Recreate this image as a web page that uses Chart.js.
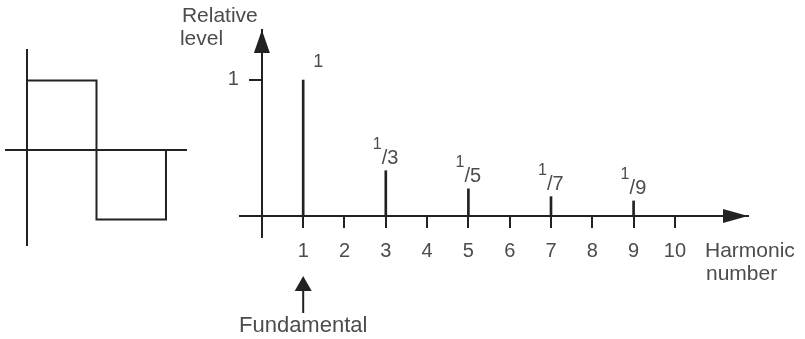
<!DOCTYPE html>
<html>
<head>
<meta charset="utf-8">
<title>Square wave spectrum</title>
<script src="https://cdn.jsdelivr.net/npm/chart.js@4.4.1/dist/chart.umd.min.js"></script>
<style>
  body { margin: 0; background: #fff; }
  #wrap { position: relative; width: 805px; height: 339px; }
  canvas { position: absolute; top: 0; left: 0; }
</style>
</head>
<body>
<div id="wrap">
  <canvas id="spectrumChart" width="805" height="339"></canvas>
  <canvas id="waveChart" width="200" height="339"></canvas>
</div>
<script>
// one period of the square wave
const waveTime = [0, 0, 1, 1, 2, 2];
const waveLevel = [0, 1, 1, -1, -1, 0];

// odd harmonics and their relative levels
const harmonics = [1, 3, 5, 7, 9];
const levels = [1, 1 / 3, 1 / 5, 1 / 7, 1 / 9];
const levelLabels = ["1", "1/3", "1/5", "1/7", "1/9"];

// axis ticks
const harmonicTicks = [1, 2, 3, 4, 5, 6, 7, 8, 9, 10];
const levelTicks = [1];

const INK = "#222";
const TEXT = "#4c4c4c";
const FONT = "'Liberation Sans', Arial, sans-serif";

Chart.defaults.font.family = FONT;
Chart.defaults.color = TEXT;
Chart.defaults.animation = false;

// filled triangle pointing along (dx, dy) with its tip at (tipX, tipY)
function arrowHead(ctx, tipX, tipY, dx, dy, len, half) {
  const bx = tipX - dx * len;
  const by = tipY - dy * len;
  ctx.beginPath();
  ctx.moveTo(tipX, tipY);
  ctx.lineTo(bx - dy * half, by + dx * half);
  ctx.lineTo(bx + dy * half, by - dx * half);
  ctx.closePath();
  ctx.fill();
}

// arrows, value fractions and axis titles
const spectrumDecor = {
  id: "spectrumDecor",
  afterDraw(chart) {
    const { ctx, chartArea, scales: { x, y } } = chart;
    const x0 = x.getPixelForValue(0);
    const y0 = y.getPixelForValue(0);

    ctx.save();
    ctx.fillStyle = INK;
    ctx.strokeStyle = INK;
    arrowHead(ctx, x0, chartArea.top, 0, -1, 23, 8);
    arrowHead(ctx, chartArea.right, y0, 1, 0, 25, 7);

    // pointer to the fundamental
    const xf = x.getPixelForValue(harmonics[0]);
    ctx.lineWidth = 2;
    ctx.beginPath();
    ctx.moveTo(xf, 313);
    ctx.lineTo(xf, 288);
    ctx.stroke();
    arrowHead(ctx, xf, 276, 0, -1, 15, 8.5);

    ctx.fillStyle = TEXT;

    // level ticks sit left of the tick marks
    ctx.font = `20px ${FONT}`;
    ctx.textAlign = "right";
    ctx.textBaseline = "middle";
    levelTicks.forEach((v) => {
      ctx.fillText(String(v), x0 - 23, y.getPixelForValue(v) - 1);
    });

    // level written over each bar
    ctx.textAlign = "left";
    chart.getDatasetMeta(0).data.forEach((bar, i) => {
      const [num, den] = levelLabels[i].split("/");
      if (!den) {
        ctx.font = `18px ${FONT}`;
        ctx.fillText(num, bar.x + 10, bar.y - 18);
        return;
      }
      ctx.font = `16px ${FONT}`;
      ctx.fillText(num, bar.x - 13, bar.y - 26);
      ctx.font = `20px ${FONT}`;
      ctx.fillText("/" + den, bar.x - 4, bar.y - 12);
    });

    // axis titles
    ctx.textBaseline = "alphabetic";
    ctx.font = `21px ${FONT}`;
    ctx.fillText("Relative", x0 - 80, chartArea.top - 8);
    ctx.fillText("level", x0 - 82, chartArea.top + 15);
    ctx.fillText("Harmonic", chartArea.right - 43, y0 + 41);
    ctx.fillText("number", chartArea.right - 42, y0 + 64);
    ctx.font = `22px ${FONT}`;
    ctx.textAlign = "center";
    ctx.fillText("Fundamental", xf, 332);
    ctx.restore();
  }
};

new Chart(document.getElementById("spectrumChart"), {
  type: "bar",
  data: {
    datasets: [
      {
        data: harmonics.map((h, i) => ({ x: h, y: levels[i] })),
        backgroundColor: INK,
        barThickness: 2,
      },
    ],
  },
  options: {
    responsive: false,
    layout: { padding: { left: 240, right: 57, top: 30, bottom: 102 } },
    plugins: { legend: { display: false }, tooltip: { enabled: false } },
    scales: {
      x: {
        type: "linear",
        position: { y: 0 },
        min: -0.53,
        max: 11.77,
        offset: false,
        afterBuildTicks: (scale) => {
          scale.ticks = harmonicTicks.map((v) => ({ value: v }));
        },
        grid: { offset: false, drawOnChartArea: false, color: INK, lineWidth: 2, tickLength: 11 },
        border: { color: INK, width: 2 },
        ticks: { padding: 12, font: { size: 20 }, maxRotation: 0, autoSkip: false },
      },
      y: {
        type: "linear",
        position: { x: 0 },
        min: -0.154,
        max: 1.368,
        afterBuildTicks: (scale) => {
          scale.ticks = levelTicks.map((v) => ({ value: v }));
        },
        grid: { drawOnChartArea: false, color: INK, lineWidth: 2, tickLength: 12 },
        border: { color: INK, width: 2 },
        ticks: { display: false },
      },
    },
  },
  plugins: [spectrumDecor],
});

// square wave with its own crossed axes
new Chart(document.getElementById("waveChart"), {
  type: "line",
  data: {
    datasets: [
      {
        data: waveTime.map((t, i) => ({ x: t, y: waveLevel[i] })),
        borderColor: INK,
        borderWidth: 2,
        pointRadius: 0,
        tension: 0,
      },
    ],
  },
  options: {
    responsive: false,
    layout: { padding: { left: 6, right: 14, top: 50, bottom: 94 } },
    plugins: { legend: { display: false }, tooltip: { enabled: false } },
    scales: {
      x: {
        type: "linear",
        position: { y: 0 },
        min: -0.302,
        max: 2.288,
        grid: { display: false },
        ticks: { display: false },
        border: { color: INK, width: 2 },
      },
      y: {
        type: "linear",
        position: { x: 0 },
        min: -1.367,
        max: 1.439,
        grid: { display: false },
        ticks: { display: false },
        border: { color: INK, width: 2 },
      },
    },
  },
});
</script>
</body>
</html>
